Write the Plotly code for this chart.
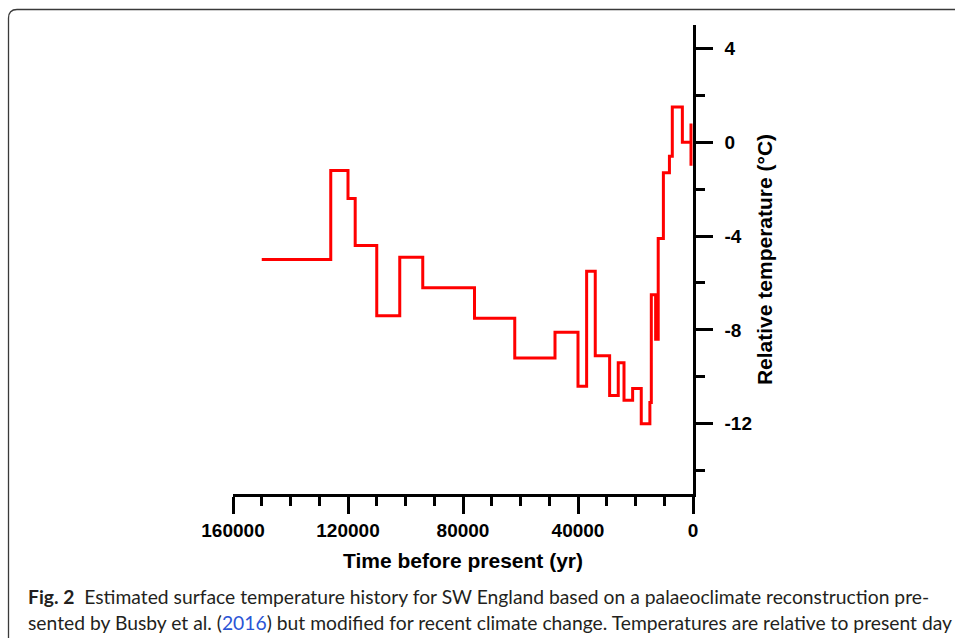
import plotly.graph_objects as go

# Step breakpoints: year at which each level starts (years before present) and its temperature (°C)
years = [150000, 126000, 120000, 117500, 110000, 102000, 94000, 76000, 62000, 48000,
         40000, 37000, 34000, 29000, 26000, 24000, 21000, 18000, 15000, 14500,
         13000, 12100, 10300, 8200, 7200, 3700, 700, 700]
temps = [-5.0, -1.2, -2.4, -4.4, -7.4, -4.9, -6.2, -7.5, -9.2, -8.1,
         -10.4, -5.5, -9.1, -10.8, -9.4, -11.0, -10.5, -12.0, -11.1, -6.5,
         -8.4, -4.1, -1.3, -0.6, 1.5, 0.0, 0.8, -1.0]

x_ticks = [160000, 120000, 80000, 40000, 0]
y_ticks = [4, 0, -4, -8, -12]

caption_line1 = "<b>Fig. 2</b>\u00a0\u00a0Estimated surface temperature history for SW England based on a palaeoclimate reconstruction pre-"
caption_line2 = ("sented by Busby et al. (<span style='color:#2b55d6'>2016</span>) but modified for recent climate change. "
                 "Temperatures are relative to present day")

L, R, T, B = 233, 262, 25, 144
W, H = 955, 638
pw, ph = W - L - R, H - T - B


def px(x):
    return (x - L) / pw


def py(y):
    return (H - B - y) / ph


fig = go.Figure()
fig.add_trace(go.Scatter(
    x=years, y=temps, mode="lines", line=dict(color="#ff0000", width=3, shape="hv"),
    showlegend=False, hoverinfo="skip"))

axis_font = dict(family="Liberation Sans, Arial, sans-serif", size=19, color="#000000", weight="bold")
title_font = dict(family="Liberation Sans, Arial, sans-serif", size=21, color="#000000", weight="bold")

fig.update_layout(
    width=W, height=H,
    margin=dict(l=L, r=R, t=T, b=B, pad=0),
    paper_bgcolor="white", plot_bgcolor="white",
    xaxis=dict(
        range=[160000, 0], tickvals=x_ticks, ticktext=[str(v) for v in x_ticks],
        showline=True, linecolor="black", linewidth=2.5,
        ticks="outside", ticklen=17, tickwidth=2.5, tickcolor="black",
        minor=dict(ticks="outside", dtick=10000, tick0=0, ticklen=9, tickwidth=2.5, tickcolor="black"),
        showgrid=False, zeroline=False, tickfont=axis_font,
        title=dict(text="Time before present (yr)", font=title_font, standoff=14),
    ),
    yaxis=dict(
        range=[-15, 5], tickvals=y_ticks, ticktext=[str(v) for v in y_ticks], side="right",
        showline=True, linecolor="black", linewidth=2.5,
        ticks="outside", ticklen=17, tickwidth=2.5, tickcolor="black", ticklabelstandoff=8,
        minor=dict(ticks="outside", dtick=2, tick0=0, ticklen=9, tickwidth=2.5, tickcolor="black"),
        showgrid=False, zeroline=False, tickfont=axis_font,
        title=dict(text="Relative temperature (°C)", font=title_font, standoff=7),
    ),
)

# frame around the figure (rounded top-left corner)
fig.add_shape(type="path", xref="paper", yref="paper",
              path=f"M {px(8.5)} {py(640)} L {px(8.5)} {py(18)} Q {px(8.5)} {py(9.5)} {px(17)} {py(9.5)} L {px(960)} {py(9.5)}",
              line=dict(color="#3a3a3a", width=1.3))

cap_font = dict(family="Lato, sans-serif", size=19.3, color="#231f20")
fig.add_annotation(text=caption_line1, xref="paper", yref="paper", x=px(26), y=py(596),
                   xanchor="left", yanchor="middle", showarrow=False, font=cap_font)
fig.add_annotation(text=caption_line2, xref="paper", yref="paper", x=px(26), y=py(622),
                   xanchor="left", yanchor="middle", showarrow=False, font=cap_font)

fig.write_html("out.html")
